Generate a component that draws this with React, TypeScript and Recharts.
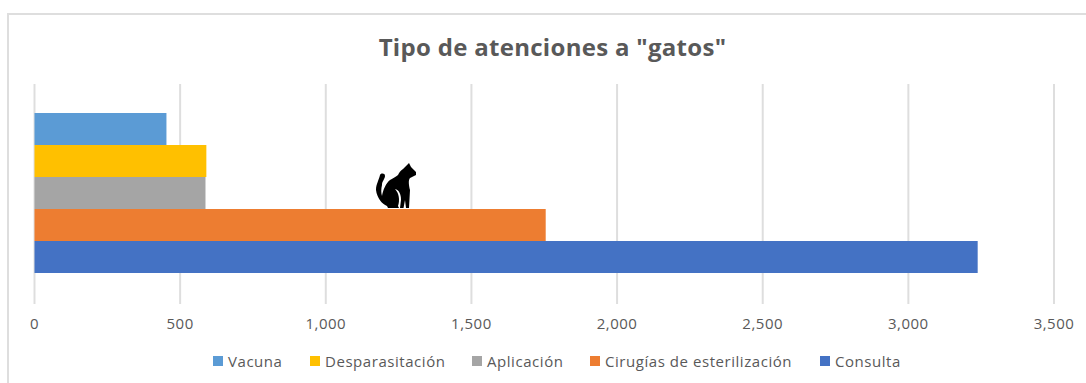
import { Bar, BarChart, CartesianGrid, Legend, XAxis, YAxis } from 'recharts'

const CATEGORIES = ['gatos']
const SERIES_NAMES = ['Vacuna', 'Desparasitación', 'Aplicación', 'Cirugías de esterilización', 'Consulta']
const SERIES_VALUES = [453, 590, 587, 1755, 3238]
const SERIES_COLORS = ['#5b9bd5', '#ffc000', '#a5a5a5', '#ed7d31', '#4472c4']
const X_TICKS = [0, 500, 1000, 1500, 2000, 2500, 3000, 3500]

const FONT = '"Open Sans", sans-serif'
const TEXT = '#595959'
const GRID = '#dedede'

const row: Record<string, string | number> = { category: CATEGORIES[0] }
SERIES_NAMES.forEach((name, i) => {
  row[name] = SERIES_VALUES[i]
})
const data = [row]

function ChartLegend() {
  return (
    <div style={{ position: 'relative', height: 20, fontFamily: FONT, fontSize: 15, letterSpacing: 0.55, color: TEXT }}>
      {SERIES_NAMES.map((name, i) => (
        <span
          key={name}
          style={{
            position: 'absolute',
            left: [213, 310, 472, 590, 820][i],
            top: 0,
            whiteSpace: 'nowrap',
            display: 'flex',
            alignItems: 'center',
            height: 20,
          }}
        >
          <span style={{ width: 10, height: 10, marginRight: 5, background: SERIES_COLORS[i] }} />
          {name}
        </span>
      ))}
    </div>
  )
}

// Cat silhouette sitting on top of the orange bar.
function Cat() {
  return (
    <svg width={60} height={60} style={{ position: 'absolute', left: 370, top: 155 }} viewBox="0 0 60 60">
      <g transform="translate(-30 -15)">
        <path
          fill="#000"
          d="M40 35 C41 33 45 33 45 36 C45 39 42 41 42 45 C41 49 41 53 42 56 C43 50 46 43 50 40 C53 38 56 37 58 35 C59 33 60 31 63 29 L69 23 L71 27 L76 32 L76 35 L70 38 C68 40 69 46 70 50 L69 68 L66 68 L65 60 L63.5 68 L60 68 L61 60 C61 54 59 50 55 49 C59 53 60 60 58 66 L59 68 L48 68 L47 66 C42 64 37 58 36 50 C36 44 39 40 40 35 Z"
        />
      </g>
    </svg>
  )
}

export default function App() {
  return (
    <div style={{ position: 'absolute', left: 0, top: 0, width: 1086, height: 383, background: '#fff', overflow: 'hidden' }}>
      <div
        style={{
          position: 'absolute',
          left: 7,
          top: 13,
          width: 1090,
          height: 380,
          border: `2px solid #dedede`,
          boxSizing: 'border-box',
        }}
      />
      <div
        style={{
          position: 'absolute',
          left: 0,
          width: 1105,
          top: 30,
          textAlign: 'center',
          fontFamily: FONT,
          fontWeight: 700,
          fontSize: 24,
          letterSpacing: 0.3,
          color: TEXT,
          whiteSpace: 'nowrap',
        }}
      >
        Tipo de atenciones a "gatos"
      </div>
      <BarChart
        width={1086}
        height={383}
        data={data}
        layout="vertical"
        barGap={0}
        barCategoryGap={29}
        margin={{ top: 84, right: 32, left: 34.5, bottom: 19 }}
        style={{ position: 'absolute', left: 0, top: 0 }}
      >
        <CartesianGrid horizontal={false} stroke={GRID} strokeWidth={2} />
        <XAxis
          type="number"
          domain={[0, 3500]}
          ticks={X_TICKS}
          tickFormatter={(v: number) => v.toLocaleString('en-US')}
          tick={{ fill: TEXT, fontSize: 15, fontFamily: FONT, letterSpacing: 0.5 }}
          tickLine={false}
          axisLine={false}
          tickMargin={8}
          height={40}
        />
        <YAxis type="category" dataKey="category" hide />
        {SERIES_NAMES.map((name, i) => (
          <Bar key={name} dataKey={name} fill={SERIES_COLORS[i]} isAnimationActive={false} />
        ))}
        <Legend content={<ChartLegend />} verticalAlign="bottom" wrapperStyle={{ left: 0, width: 1086, bottom: 12 }} />
      </BarChart>
      <Cat />
    </div>
  )
}
